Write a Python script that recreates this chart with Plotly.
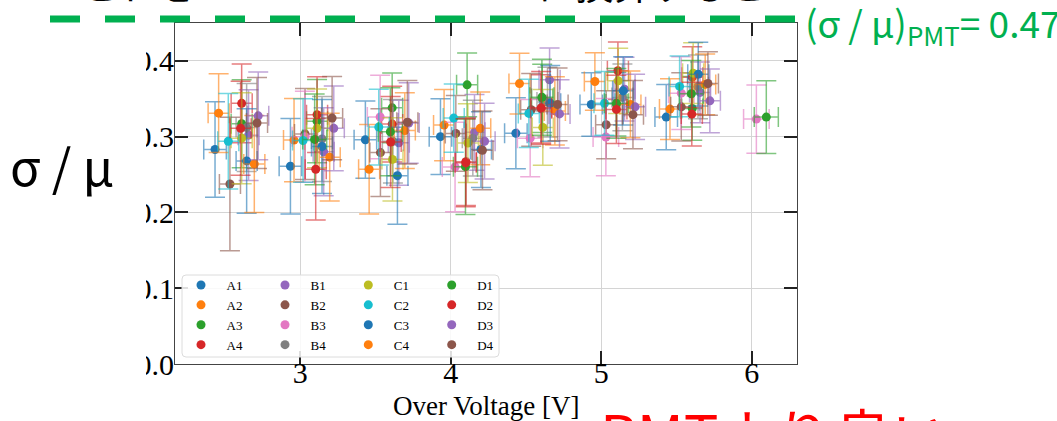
import plotly.graph_objects as go

# ---------------- data ----------------
names = ["A1", "A2", "A3", "A4", "B1", "B2", "B3", "B4",
         "C1", "C2", "C3", "C4", "D1", "D2", "D3", "D4"]
colors = ["#1f77b4", "#ff7f0e", "#2ca02c", "#d62728", "#9467bd", "#8c564b", "#e377c2", "#7f7f7f",
          "#bcbd22", "#17becf", "#1f77b4", "#ff7f0e", "#2ca02c", "#d62728", "#9467bd", "#8c564b"]

ov = {
    "A1": [2.433, 2.934, 3.432, 3.931, 4.432, 4.933, 5.431],
    "A2": [2.457, 2.958, 3.457, 3.955, 4.456, 4.957, 5.456],
    "A3": [2.610, 3.111, 3.610, 4.108, 4.607, 5.100, 5.604],
    "A4": [2.610, 3.111, 3.610, 4.100, 4.600, 5.110, 5.604],
    "B1": [2.656, 3.155, 3.654, 4.157, 4.656, 5.154, 5.656],
    "B2": [2.532, 3.031, 3.532, 4.033, 4.534, 5.032, 5.531],
    "B3": [3.030, 3.530, 4.028, 4.527, 5.030, 5.531, 6.030],
    "B4": [2.643, 3.144, 3.615, 4.146, 4.642, 5.140, 5.642],
    "C1": [2.610, 3.111, 3.612, 4.113, 4.611, 5.112, 5.610],
    "C2": [2.521, 3.018, 3.521, 4.019, 4.518, 5.021, 5.520],
    "C3": [2.643, 3.144, 3.645, 4.200, 4.660, 5.145, 5.644],
    "C4": [2.694, 3.195, 3.694, 4.195, 4.691, 5.193, 5.690],
    "D1": [3.095, 3.598, 4.097, 4.605, 5.100, 5.598, 6.096],
    "D2": [2.603, 3.102, 3.600, 4.099, 4.600, 5.100, 5.601],
    "D3": [2.720, 3.222, 3.720, 4.224, 4.722, 5.224, 5.721],
    "D4": [2.712, 3.211, 3.711, 4.210, 4.709, 5.210, 5.708],
}
ratio = {
    "A1": [0.283, 0.261, 0.296, 0.300, 0.3045, 0.3425, 0.3258],
    "A2": [0.331, 0.2955, 0.257, 0.3153, 0.370, 0.3728, 0.3364],
    "A3": [0.317, 0.3205, 0.338, 0.3684, 0.3505, 0.343, 0.3373],
    "A4": [0.344, 0.329, 0.3166, 0.267, 0.3368, 0.387, 0.3785],
    "B1": [0.302, 0.280, 0.292, 0.3057, 0.375, 0.3627, 0.3584],
    "B2": [0.2375, 0.3035, 0.279, 0.3043, 0.3355, 0.3157, 0.3394],
    "B3": [0.300, 0.326, 0.260, 0.298, 0.2995, 0.3574, 0.3232],
    "B4": [0.312, 0.297, 0.294, 0.298, 0.3456, 0.3518, 0.3658],
    "C1": [0.298, 0.311, 0.270, 0.2916, 0.3122, 0.3737, 0.3838],
    "C2": [0.294, 0.295, 0.3126, 0.3245, 0.3307, 0.344, 0.3663],
    "C3": [0.268, 0.287, 0.2485, 0.283, 0.344, 0.3605, 0.3825],
    "C4": [0.264, 0.273, 0.308, 0.311, 0.334, 0.3425, 0.369],
    "D1": [0.2964, 0.3065, 0.2604, 0.352, 0.344, 0.3566, 0.3258],
    "D2": [0.311, 0.257, 0.293, 0.2656, 0.338, 0.336, 0.3298],
    "D3": [0.3275, 0.311, 0.318, 0.294, 0.330, 0.3394, 0.3473],
    "D4": [0.318, 0.3245, 0.319, 0.282, 0.3425, 0.329, 0.3702],
}
ratio_err = {
    "A1": [0.063, 0.063, 0.051, 0.050, 0.047, 0.042, 0.043],
    "A2": [0.052, 0.055, 0.059, 0.047, 0.040, 0.038, 0.040],
    "A3": [0.058, 0.055, 0.046, 0.042, 0.045, 0.042, 0.042],
    "A4": [0.052, 0.050, 0.050, 0.058, 0.045, 0.038, 0.040],
    "B1": [0.060, 0.058, 0.056, 0.050, 0.042, 0.042, 0.040],
    "B2": [0.088, 0.060, 0.058, 0.050, 0.048, 0.045, 0.045],
    "B3": [0.060, 0.055, 0.059, 0.051, 0.051, 0.048, 0.045],
    "B4": [0.058, 0.056, 0.055, 0.050, 0.046, 0.044, 0.042],
    "C1": [0.060, 0.052, 0.055, 0.052, 0.050, 0.043, 0.040],
    "C2": [0.063, 0.055, 0.050, 0.045, 0.045, 0.042, 0.040],
    "C3": [0.069, 0.062, 0.064, 0.050, 0.050, 0.045, 0.042],
    "C4": [0.064, 0.058, 0.050, 0.048, 0.045, 0.044, 0.040],
    "D1": [0.060, 0.058, 0.063, 0.050, 0.046, 0.044, 0.048],
    "D2": [0.062, 0.067, 0.060, 0.058, 0.048, 0.045, 0.042],
    "D3": [0.058, 0.056, 0.053, 0.050, 0.045, 0.043, 0.042],
    "D4": [0.060, 0.055, 0.055, 0.052, 0.048, 0.045, 0.042],
}
ov_err = {"A1": 0.075, "A2": 0.07, "A3": 0.07, "A4": 0.07, "B1": 0.07, "B2": 0.07, "B3": 0.085, "B4": 0.07,
          "C1": 0.07, "C2": 0.07, "C3": 0.07, "C4": 0.07, "D1": 0.08, "D2": 0.07, "D3": 0.07, "D4": 0.07}

x_ticks = [3, 4, 5, 6]
y_ticks = [0.0, 0.1, 0.2, 0.3, 0.4]
y_tick_text = ["0.0", "0.1", "0.2", "0.3", "0.4"]

x_title = "Over Voltage [V]"
top_text = "これをExcess Noise Factorに換算すると"
pmt_text = "(σ / μ)<sub>PMT</sub>= 0.47"
left_text = "σ / μ"
bottom_text = "PMTより良い"

# ---------------- layout helpers ----------------
W, H = 1057, 421
ML, MR, MT, MB = 175, 260, 23, 57
PW, PH = W - ML - MR, H - MT - MB


def px(x):
    return (x - ML) / PW


def py(y):
    return (H - MB - y) / PH


def rgba(hexc, a):
    h = hexc.lstrip("#")
    return "rgba(%d,%d,%d,%.2f)" % (int(h[0:2], 16), int(h[2:4], 16), int(h[4:6], 16), a)


serif = "Liberation Serif, Times New Roman, serif"
sans = "Noto Sans CJK JP, Noto Sans, sans-serif"

fig = go.Figure()
legend_ids = {"A": "legend", "B": "legend2", "C": "legend3", "D": "legend4"}
for name, col in zip(names, colors):
    fig.add_trace(go.Scatter(
        x=ov[name], y=ratio[name], mode="markers", name=name,
        legend=legend_ids[name[0]],
        marker=dict(color=col, size=9),
        error_y=dict(type="data", array=ratio_err[name], color=rgba(col, 0.6), thickness=1.5, width=10),
        error_x=dict(type="constant", value=ov_err[name], color=rgba(col, 0.6), thickness=1.5, width=10),
    ))

axis_common = dict(showline=True, linecolor="#444", linewidth=1.2, mirror="ticks",
                   ticks="inside", ticklen=13, tickwidth=1.5, tickcolor="#222",
                   showgrid=True, gridcolor="#d4d4d4", gridwidth=1, zeroline=False,
                   automargin=False,
                   tickfont=dict(family=serif, size=30, color="black"))

fig.update_xaxes(range=[2.167, 6.30], tickvals=x_ticks, ticktext=[str(t) for t in x_ticks],
                 ticklabelstandoff=-18, **axis_common)
fig.update_yaxes(range=[0, 0.45], tickvals=y_ticks, ticktext=y_tick_text,
                 ticklabelstandoff=-6, **axis_common)

# legend background box (rounded)
lx0, lx1, ly0, ly1, r = 182, 499, 275, 357, 4
path = ("M {a},{b} L {c},{b} Q {d},{b} {d},{e} L {d},{f} Q {d},{g} {c},{g} "
        "L {a},{g} Q {h},{g} {h},{f} L {h},{e} Q {h},{b} {a},{b} Z").format(
    a=px(lx0 + r), b=py(ly0), c=px(lx1 - r), d=px(lx1), e=py(ly0 + r),
    f=py(ly1 - r), g=py(ly1), h=px(lx0))

shapes = [
    dict(type="path", xref="paper", yref="paper", path=path, layer="above",
         fillcolor="rgba(255,255,255,0.85)", line=dict(color="#dcdcdc", width=1)),
    # slide crop: hides the left part of the y tick labels
    dict(type="rect", xref="paper", yref="paper", x0=px(-5), x1=px(146), y0=py(395), y1=py(40),
         layer="above", fillcolor="white", line=dict(width=0)),
    dict(type="line", xref="paper", yref="paper", x0=px(50), x1=px(800), y0=py(19), y1=py(19),
         layer="above", line=dict(color="#00B050", width=7, dash="30px,25px")),
]

annotations = [
    dict(text=x_title, xref="paper", yref="paper", x=px(486), y=py(406), xanchor="center",
         yanchor="middle", showarrow=False, font=dict(family=serif, size=27, color="black")),
    dict(text=top_text, xref="paper", yref="paper", x=px(423), y=py(14), yshift=1.5,
         xanchor="center", yanchor="bottom", showarrow=False,
         font=dict(family=sans, size=38, color="black")),
    dict(text=pmt_text, xref="paper", yref="paper", x=px(803), y=py(24), xanchor="left",
         yanchor="middle", showarrow=False, font=dict(family=sans, size=37, color="#00B050")),
    dict(text=left_text, xref="paper", yref="paper", x=px(62), y=py(164), xanchor="center",
         yanchor="middle", showarrow=False, font=dict(family=sans, size=50, color="black")),
    dict(text=bottom_text, xref="paper", yref="paper", x=px(598), y=py(389), xanchor="left",
         yanchor="top", showarrow=False, font=dict(family=sans, size=58, color="#FF0000")),
]

col_marker_x = [201, 285, 368.3, 451.7]
leg_common = dict(bgcolor="rgba(0,0,0,0)", borderwidth=0, itemwidth=41,
                  font=dict(family=serif, size=13, color="black"),
                  xanchor="left", yanchor="top", y=py(270), tracegroupgap=0)
legends = {}
for i, key in enumerate(["legend", "legend2", "legend3", "legend4"]):
    legends[key] = dict(x=px(col_marker_x[i] - 25.5), **leg_common)

fig.update_layout(
    width=W, height=H, margin=dict(l=ML, r=MR, t=MT, b=MB, autoexpand=False),
    plot_bgcolor="white", paper_bgcolor="white",
    showlegend=True, shapes=shapes, annotations=annotations,
    **legends,
)

fig.write_html("out.html", config={"displayModeBar": False},
               post_script="document.body.style.margin='0px';")
